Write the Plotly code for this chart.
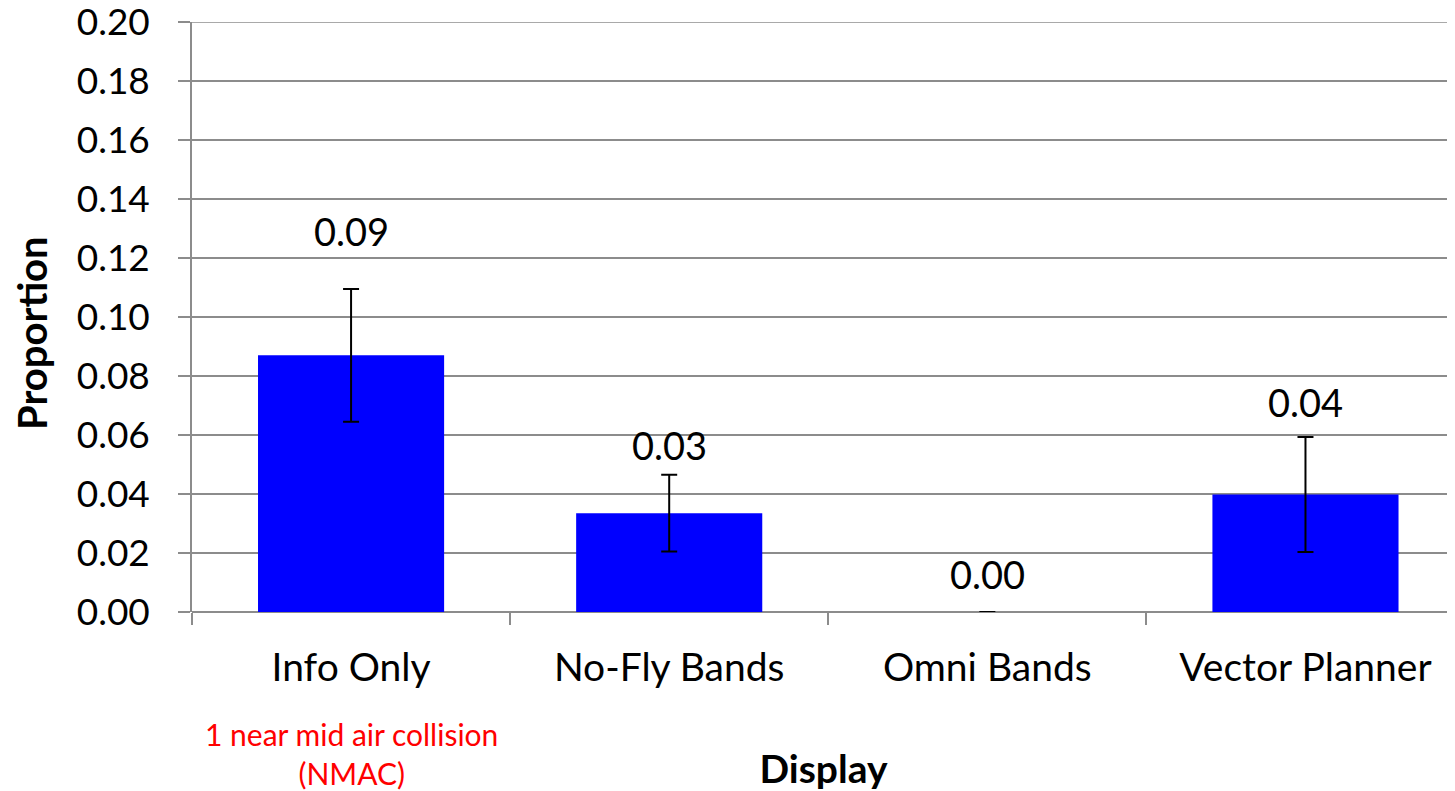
import plotly.graph_objects as go

categories = ["Info Only", "No-Fly Bands", "Omni Bands", "Vector Planner"]
proportion = [0.087, 0.0335, 0.0, 0.0398]
error = [0.0225, 0.013, 0.0, 0.0195]
labels = ["0.09", "0.03", "0.00", "0.04"]
label_shift = [58, 30, 38, 35]
y_ticks = [0.00, 0.02, 0.04, 0.06, 0.08, 0.10, 0.12, 0.14, 0.16, 0.18, 0.20]

FONT = "Lato, Carlito, Calibri, sans-serif"
GRID = "#8c8c8c"

fig = go.Figure()
fig.add_trace(go.Bar(
    x=categories, y=proportion,
    marker=dict(color="#0000ff", line=dict(width=0)),
    width=0.585,
    error_y=dict(type="data", array=error, visible=True, color="black", thickness=2, width=8),
    showlegend=False, hoverinfo="skip",
))

for c, v, e, t, s in zip(categories, proportion, error, labels, label_shift):
    fig.add_annotation(x=c, y=v + e, text=t, showarrow=False, yshift=s,
                       font=dict(family=FONT, size=38, color="black"))

fig.add_annotation(x=categories[0], y=0, yref="y", text="1 near mid air collision<br>(NMAC)",
                   showarrow=False, yshift=-141, font=dict(family=FONT, size=30, color="#ff0000"))

fig.add_annotation(xref="paper", yref="paper", x=0, y=0.5, xshift=-160, yshift=-16,
                   xanchor="center", yanchor="middle",
                   text="<b>Proportion</b>", textangle=-90, showarrow=False,
                   font=dict(family=FONT, size=40, color="black"))

# top gridline (0.20)
fig.add_shape(type="line", xref="paper", yref="y", x0=0, x1=1, y0=y_ticks[-1], y1=y_ticks[-1],
              line=dict(color=GRID, width=1.5), layer="below")

fig.update_layout(
    width=1447, height=783,
    margin=dict(l=184, r=0, t=14, b=179),
    plot_bgcolor="white", paper_bgcolor="white",
    font=dict(family=FONT, size=36, color="black"),
    bargap=0.415,
    xaxis=dict(
        type="category", range=[-0.5, 3.47], automargin=False,
        showline=False, showgrid=False, zeroline=False,
        ticks="outside", tickson="boundaries", ticklen=12, tickwidth=1.5, tickcolor=GRID,
        tickfont=dict(size=39), ticklabelstandoff=29,
        title=dict(text="<b>Display</b>", font=dict(size=39), standoff=70),
    ),
    yaxis=dict(
        range=[0, 0.2], tickvals=y_ticks, tickformat=".2f", automargin=False,
        ticklabeloverflow="allow",
        showline=True, linecolor=GRID, linewidth=1.5,
        showgrid=True, gridcolor=GRID, gridwidth=1.5,
        zeroline=True, zerolinecolor=GRID, zerolinewidth=1.5,
        ticks="outside", ticklen=12, tickwidth=1.5, tickcolor=GRID,
        tickfont=dict(size=37), ticklabelstandoff=21,
    ),
)

fig.write_html("out.html")
